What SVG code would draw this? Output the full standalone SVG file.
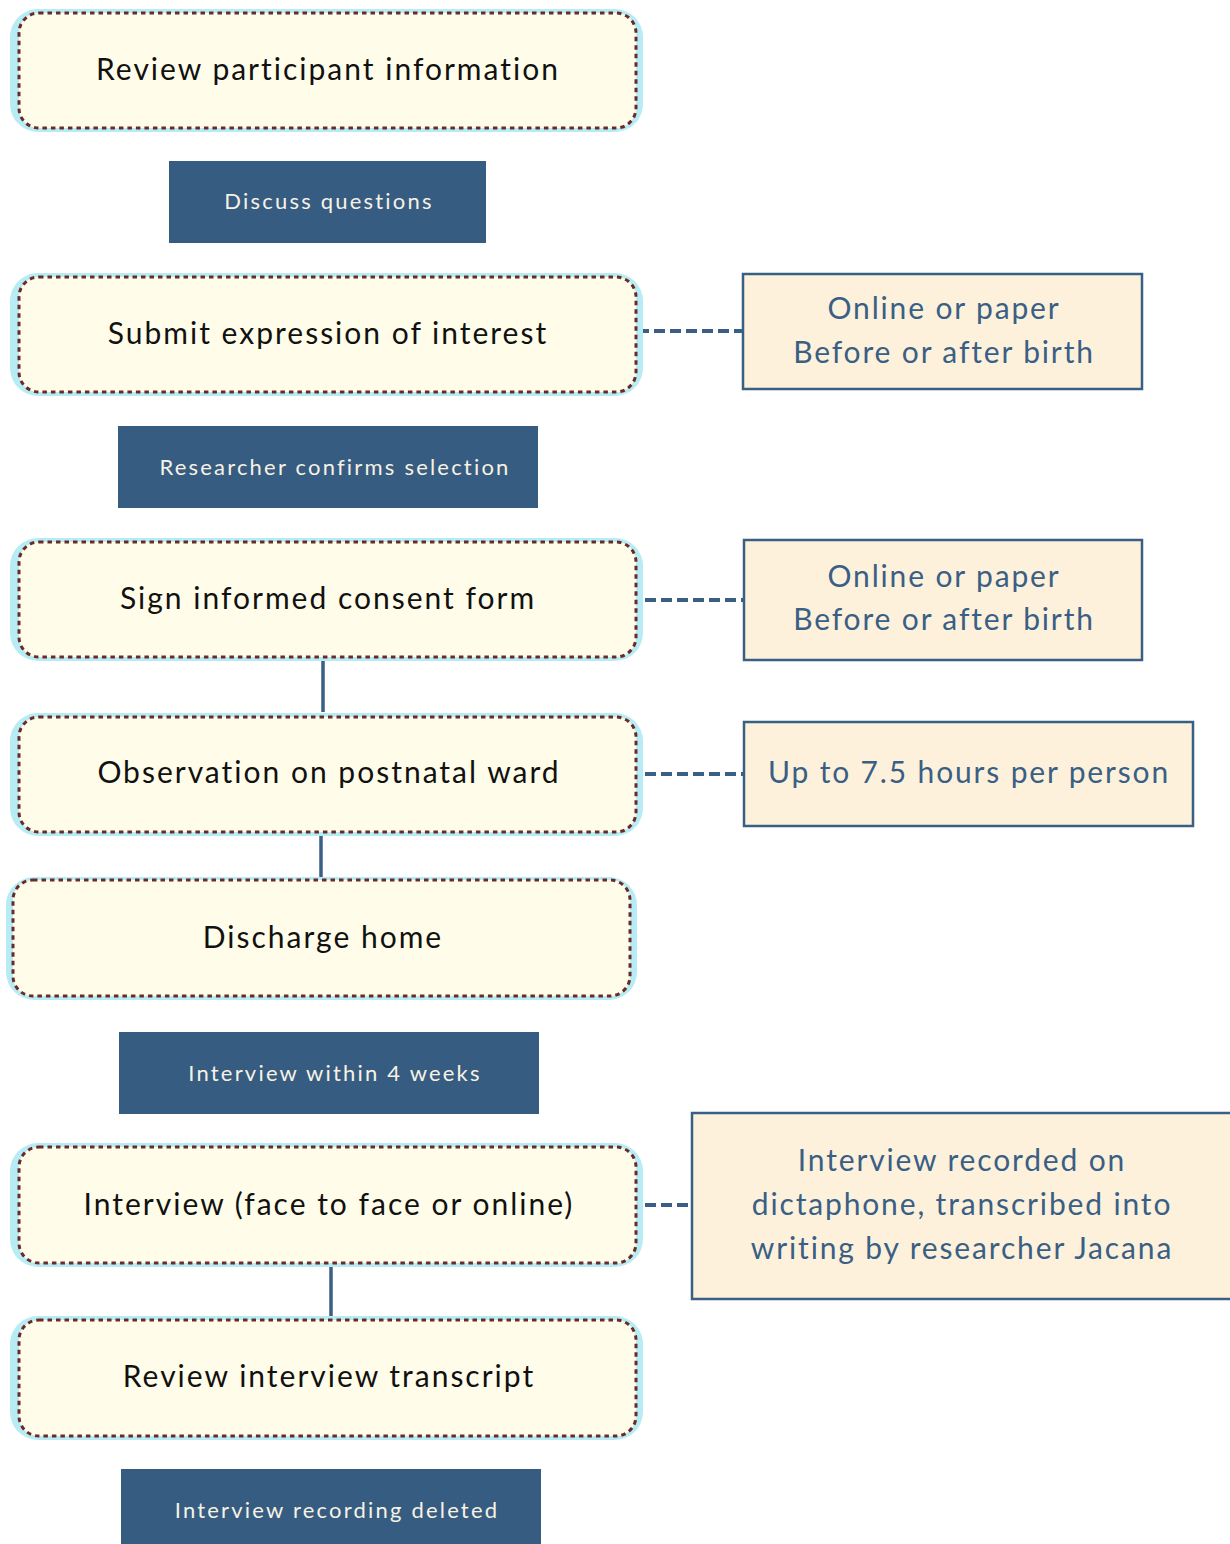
<svg xmlns="http://www.w3.org/2000/svg" width="1230" height="1544" viewBox="0 0 1230 1544">
<style>
.outer{fill:#b7ecf4}
.inner{fill:#fffde9;stroke:#6b2a2a;stroke-width:3;stroke-dasharray:4.5 4}
.nt{font-family:Lato,"Liberation Sans",sans-serif;font-size:30px;fill:#111;text-anchor:middle;letter-spacing:2px}
.bb{fill:#365c82}
.bt{font-family:Lato,"Liberation Sans",sans-serif;font-size:22px;fill:#f7f2e4;text-anchor:middle;letter-spacing:2.2px}
.sb{fill:#fdf1dc;stroke:#3a5f85;stroke-width:2.5}
.st{font-family:Lato,"Liberation Sans",sans-serif;font-size:30px;fill:#3a5f85;text-anchor:middle;letter-spacing:1.85px}
.dash{stroke:#3a5f85;stroke-width:4;stroke-dasharray:11 5;fill:none}
.solid{stroke:#3a5f85;stroke-width:3.5;fill:none}
</style>
<rect width="1230" height="1544" fill="#fff"/>
<g id="connectors">
<line class="dash" x1="638" y1="331" x2="743" y2="331"/>
<line class="dash" x1="645" y1="600" x2="744" y2="600"/>
<line class="dash" x1="645" y1="774" x2="744" y2="774"/>
<line class="dash" x1="645" y1="1205" x2="692" y2="1205"/>
<line class="solid" x1="323" y1="657" x2="323" y2="712"/>
<line class="solid" x1="321" y1="824" x2="321" y2="879"/>
<line class="solid" x1="331" y1="1265" x2="331" y2="1318"/>
</g>
<g id="n1"><rect class="outer" x="10" y="9" width="633" height="123" rx="28"/><rect class="inner" x="19" y="13" width="617" height="115" rx="20"/><text class="nt" x="328" y="80">Review participant information</text></g>
<g id="b1"><rect class="bb" x="169" y="161" width="317" height="82"/><text class="bt" x="329" y="209">Discuss questions</text></g>
<g id="n2"><rect class="outer" x="10" y="273" width="633" height="123" rx="28"/><rect class="inner" x="19" y="277" width="617" height="115" rx="20"/><text class="nt" x="328" y="344">Submit expression of interest</text></g>
<g id="s1"><rect class="sb" x="743" y="274" width="399" height="115"/><text class="st" x="944" y="319">Online or paper</text><text class="st" x="944" y="363">Before or after birth</text></g>
<g id="b2"><rect class="bb" x="118" y="426" width="420" height="82"/><text class="bt" x="335" y="475">Researcher confirms selection</text></g>
<g id="n3"><rect class="outer" x="10" y="538" width="633" height="123" rx="28"/><rect class="inner" x="19" y="542" width="617" height="115" rx="20"/><text class="nt" x="328" y="609">Sign informed consent form</text></g>
<g id="s2"><rect class="sb" x="744" y="540" width="398" height="120"/><text class="st" x="944" y="587">Online or paper</text><text class="st" x="944" y="630">Before or after birth</text></g>
<g id="n4"><rect class="outer" x="10" y="713" width="633" height="123" rx="28"/><rect class="inner" x="19" y="717" width="617" height="115" rx="20"/><text class="nt" x="329" y="783">Observation on postnatal ward</text></g>
<g id="s3"><rect class="sb" x="744" y="722" width="449" height="104"/><text class="st" x="969" y="783">Up to 7.5 hours per person</text></g>
<g id="n5"><rect class="outer" x="6" y="877" width="631" height="123" rx="28"/><rect class="inner" x="13" y="880" width="617" height="116" rx="20"/><text class="nt" x="323" y="948">Discharge home</text></g>
<g id="b3"><rect class="bb" x="119" y="1032" width="420" height="82"/><text class="bt" x="335" y="1081">Interview within 4 weeks</text></g>
<g id="n6"><rect class="outer" x="10" y="1143" width="633" height="124" rx="28"/><rect class="inner" x="19" y="1147" width="617" height="116" rx="20"/><text class="nt" x="329" y="1215">Interview (face to face or online)</text></g>
<g id="s4"><rect class="sb" x="692" y="1113" width="540" height="186"/><text class="st" x="962" y="1171">Interview recorded on</text><text class="st" x="962" y="1215">dictaphone, transcribed into</text><text class="st" x="962" y="1259">writing by researcher Jacana</text></g>
<g id="n7"><rect class="outer" x="10" y="1316" width="633" height="124" rx="28"/><rect class="inner" x="19" y="1320" width="617" height="116" rx="20"/><text class="nt" x="329" y="1387">Review interview transcript</text></g>
<g id="b4"><rect class="bb" x="121" y="1469" width="420" height="75"/><text class="bt" x="337" y="1518">Interview recording deleted</text></g>
</svg>
